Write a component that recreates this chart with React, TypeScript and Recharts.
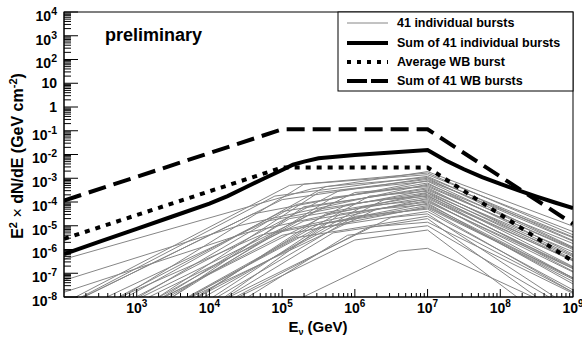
import React from 'react';
import { LineChart, Line, XAxis, YAxis } from 'recharts';

const FONT = '"Liberation Sans", Arial, Helvetica, sans-serif';

// ---- data (log10 of E [GeV] and log10 of E^2 dN/dE [GeV cm^-2]) ----
const sumIndivLogE = [2, 2.5, 3, 3.5, 4, 4.25, 4.5, 4.75, 5, 5.15, 5.3, 5.5, 6, 6.5, 7, 7.25, 7.5, 7.75, 8, 8.25, 8.5, 8.75, 9];
const sumIndivLogF = [-6.19, -5.66, -5.13, -4.6, -4.07, -3.75, -3.38, -3.01, -2.65, -2.43, -2.3, -2.16, -2.02, -1.92, -1.81, -2.25, -2.62, -2.95, -3.24, -3.51, -3.77, -4.02, -4.26];

const wbSumLogE = [2, 5, 7, 9];
const wbSumLogF = [-3.94, -0.94, -0.94, -4.92];

const wbAvgLogE = [2, 5, 7, 9];
const wbAvgLogF = [-5.55, -2.55, -2.55, -6.5];

// 41 individual bursts: start, first break, peak (at 10^7 GeV), end
const burstStartLogE = [2, 2.16, 2.8, 2.24, 2.86, 2.27, 3.3, 2.27, 2.99, 3.03, 2, 3.49, 3.07, 2.75, 3.49, 2.59, 3.7, 3.44, 2, 3.38, 3.36, 3.84, 3.85, 2.77, 3.93, 3.17, 4.21, 3.31, 3.75, 3.82, 3.38, 4.11, 4.05, 4.27, 3.73, 4.24, 4.36, 4.53, 4.4, 5.29, 3.72];
const burstStartLogF = [-6.41, -8, -8, -8, -8, -8, -8, -8, -8, -8, -7.3, -8, -8, -8, -8, -8, -8, -8, -7.8, -8, -8, -8, -8, -8, -8, -8, -8, -8, -8, -8, -8, -8, -8, -8, -8, -8, -8, -8, -8, -8, -8];
const burstBreakLogE = [5.4, 5.1, 5.3, 4.9, 5.6, 5.0, 5.5, 4.6, 5.8, 5.2, 4.4, 5.7, 6.0, 5.0, 5.3, 4.8, 6.2, 5.5, 4.5, 5.9, 5.1, 6.4, 5.6, 4.7, 6.1, 5.3, 5.8, 4.9, 6.3, 5.4, 5.0, 6.0, 5.5, 6.5, 5.2, 5.7, 6.2, 5.9, 6.0, 6.6, 5.6];
const burstBreakLogF = [-3.45, -3.3, -3.25, -3.75, -3.35, -3.9, -3.6, -4.5, -3.5, -4.1, -5.0, -3.8, -3.6, -4.4, -4.2, -4.8, -3.75, -4.3, -5.3, -4.1, -4.7, -3.9, -4.5, -5.4, -4.2, -4.8, -4.5, -5.3, -4.3, -5.0, -5.4, -4.6, -5.1, -4.65, -5.5, -5.3, -5.05, -5.4, -5.6, -6.07, -4.9];
const burstPeakLogE = 7;
const burstPeakLogF = [-2.72, -2.78, -2.85, -2.92, -2.97, -3.0, -3.05, -3.1, -3.13, -3.2, -3.25, -3.3, -3.35, -3.4, -3.45, -3.5, -3.55, -3.6, -3.62, -3.68, -3.72, -3.76, -3.8, -3.85, -3.9, -3.95, -4.0, -4.05, -4.1, -4.15, -4.2, -4.3, -4.4, -4.5, -4.6, -4.7, -4.85, -5.0, -5.18, -5.95, -4.25];
const burstEndLogE = [9, 9, 9, 9, 9, 9, 9, 9, 9, 9, 9, 9, 9, 9, 9, 9, 9, 9, 9, 9, 9, 9, 9, 9, 9, 9, 9, 9, 9, 9, 9, 9, 9, 8.75, 9, 8.5, 9, 8.67, 8.23, 8.45, 9];
const burstEndLogF = [-5.02, -5.38, -5.25, -5.62, -5.47, -5.9, -5.65, -5.5, -5.93, -6.2, -5.75, -6.0, -5.95, -6.4, -6.25, -6.1, -6.45, -6.3, -6.72, -6.48, -6.92, -6.46, -6.8, -6.75, -7.2, -6.95, -6.8, -7.45, -7.2, -7.35, -7.2, -7.8, -7.7, -8, -7.8, -8, -7.85, -8, -8, -8, -7.25];

// axis decades
const xMajorExp = [3, 4, 5, 6, 7, 8, 9];
const yMajorExp = [-8, -7, -6, -5, -4, -3, -2, -1, 0, 1, 2, 3, 4];

const legendLabels = ['41 individual bursts', 'Sum of 41 individual bursts', 'Average WB burst', 'Sum of 41 WB bursts'];

// ---- helpers ----
const toPts = (lx: number[], ly: number[]) => lx.map((x, i) => ({ e: Math.pow(10, x), f: Math.pow(10, ly[i]) }));

const sumIndiv = toPts(sumIndivLogE, sumIndivLogF);
const wbSum = toPts(wbSumLogE, wbSumLogF);
const wbAvg = toPts(wbAvgLogE, wbAvgLogF);
const bursts = burstPeakLogF.map((p, i) =>
  toPts(
    [burstStartLogE[i], burstBreakLogE[i], burstPeakLogE, burstEndLogE[i]],
    [burstStartLogF[i], burstBreakLogF[i], p, burstEndLogF[i]]
  )
);

const xTicks: number[] = [];
for (let k = 2; k <= 9; k++) {
  for (let m = 1; m <= 9; m++) {
    const v = m * Math.pow(10, k);
    if (v > 100 && v <= 1e9 + 1) xTicks.push(v);
  }
}
const yTicks: number[] = [];
for (let k = -8; k <= 4; k++) {
  for (let m = 1; m <= 9; m++) {
    const v = m * Math.pow(10, k);
    if (v <= 1e4 * 1.0001) yTicks.push(v);
  }
}

const isMajor = (v: number) => {
  const l = Math.log10(v);
  return Math.abs(l - Math.round(l)) < 1e-6;
};

const W = 582;
const H = 341;
const L = 64;
const R = 573;
const T = 12;
const B = 297;

const XTick = (props: any) => {
  const { x, y, payload } = props;
  const v = payload.value;
  const major = isMajor(v);
  const k = Math.round(Math.log10(v));
  return (
    <g>
      <line x1={x} y1={y} x2={x} y2={y - (major ? 8 : 4)} stroke="#000" strokeWidth={1} />
      {major && xMajorExp.includes(k) && (
        <text x={x} y={y + 16} textAnchor="middle" fontFamily={FONT} fontWeight="bold" fontSize={14} fill="#000">
          10<tspan dy={-6} fontSize={10}>{k}</tspan>
        </text>
      )}
    </g>
  );
};

const YTick = (props: any) => {
  const { x, y, payload } = props;
  const v = payload.value;
  const major = isMajor(v);
  const k = Math.round(Math.log10(v));
  let label: React.ReactNode = null;
  if (major && yMajorExp.includes(k)) {
    if (k === 0 || k === 1) {
      label = (
        <text x={x - 7} y={y + 5} textAnchor="end" fontFamily={FONT} fontWeight="bold" fontSize={14} fill="#000">
          {k === 0 ? '1' : '10'}
        </text>
      );
    } else {
      label = (
        <text x={x - 7} y={y + 8.8} textAnchor="end" fontFamily={FONT} fontWeight="bold" fontSize={14} fill="#000">
          10<tspan dy={-6} fontSize={10.5}>{k}</tspan>
        </text>
      );
    }
  }
  return (
    <g>
      <line x1={x} y1={y} x2={x + (major ? 14 : 7)} y2={y} stroke="#000" strokeWidth={1} />
      {label}
    </g>
  );
};

export default function App() {
  const legendRows = [23, 43, 62, 81];
  return (
    <div style={{ position: 'absolute', left: 0, top: 0, width: W, height: H, background: '#fff' }}>
      <LineChart width={W} height={H} margin={{ top: T, right: W - R, left: 0, bottom: 0 }}>
        <XAxis
          dataKey="e"
          type="number"
          scale="log"
          domain={[100, 1e9]}
          allowDataOverflow
          ticks={xTicks}
          interval={0}
          tick={XTick}
          tickLine={false}
          tickSize={0}
          tickMargin={0}
          axisLine={{ stroke: '#000' }}
          height={H - B}
        />
        <YAxis
          dataKey="f"
          type="number"
          scale="log"
          domain={[1e-8, 1e4]}
          allowDataOverflow
          ticks={yTicks}
          interval={0}
          tick={YTick}
          tickLine={false}
          tickSize={0}
          tickMargin={0}
          axisLine={{ stroke: '#000' }}
          width={L}
        />
        {bursts.map((d, i) => (
          <Line
            key={'b' + i}
            data={d}
            dataKey="f"
            type="linear"
            stroke="#868686"
            strokeWidth={1}
            dot={false}
            isAnimationActive={false}
          />
        ))}
        <Line data={sumIndiv} dataKey="f" type="linear" stroke="#000" strokeWidth={4} dot={false} isAnimationActive={false} />
        <Line data={wbAvg} dataKey="f" type="linear" stroke="#000" strokeWidth={4} strokeDasharray="5 6" dot={false} isAnimationActive={false} />
        <Line data={wbSum} dataKey="f" type="linear" stroke="#000" strokeWidth={4} strokeDasharray="18 8" dot={false} isAnimationActive={false} />
      </LineChart>
      <svg width={W} height={H} style={{ position: 'absolute', left: 0, top: 0, pointerEvents: 'none' }}>
        <rect x={L} y={T} width={R - L} height={B - T} fill="none" stroke="#000" strokeWidth={1} />
        <rect x={338} y={T} width={R - 338} height={91 - T} fill="#fff" stroke="#000" strokeWidth={1} />
        <line x1={347} x2={388} y1={legendRows[0]} y2={legendRows[0]} stroke="#868686" strokeWidth={1} />
        <line x1={347} x2={388} y1={legendRows[1]} y2={legendRows[1]} stroke="#000" strokeWidth={4} />
        <line x1={347} x2={388} y1={legendRows[2]} y2={legendRows[2]} stroke="#000" strokeWidth={4} strokeDasharray="4 6" />
        <line x1={347} x2={388} y1={legendRows[3]} y2={legendRows[3]} stroke="#000" strokeWidth={4} strokeDasharray="20 4" />
        {legendLabels.map((t, i) => (
          <text key={t} x={397} y={legendRows[i] + 4.4} fontFamily={FONT} fontWeight="bold" fontSize={12.5} fill="#000">
            {t}
          </text>
        ))}
        <text x={105} y={41} fontFamily={FONT} fontWeight="bold" fontSize={18} fill="#000">
          preliminary
        </text>
        <text x={318} y={332} textAnchor="middle" fontFamily={FONT} fontWeight="bold" fontSize={15} fill="#000">
          E<tspan dy={3} fontSize={9}>ν</tspan>
          <tspan dy={-3}> (GeV)</tspan>
        </text>
        <text
          x={23}
          y={156}
          textAnchor="middle"
          transform="rotate(-90 23 156)"
          fontFamily={FONT}
          fontWeight="bold"
          fontSize={16}
          fill="#000"
        >
          E<tspan dy={-6} fontSize={11}>2</tspan>
          <tspan dy={6} fontWeight="normal"> × </tspan>
          <tspan>dN/dE (GeV cm</tspan>
          <tspan dy={-6} fontSize={11}>-2</tspan>
          <tspan dy={6}>)</tspan>
        </text>
      </svg>
    </div>
  );
}
